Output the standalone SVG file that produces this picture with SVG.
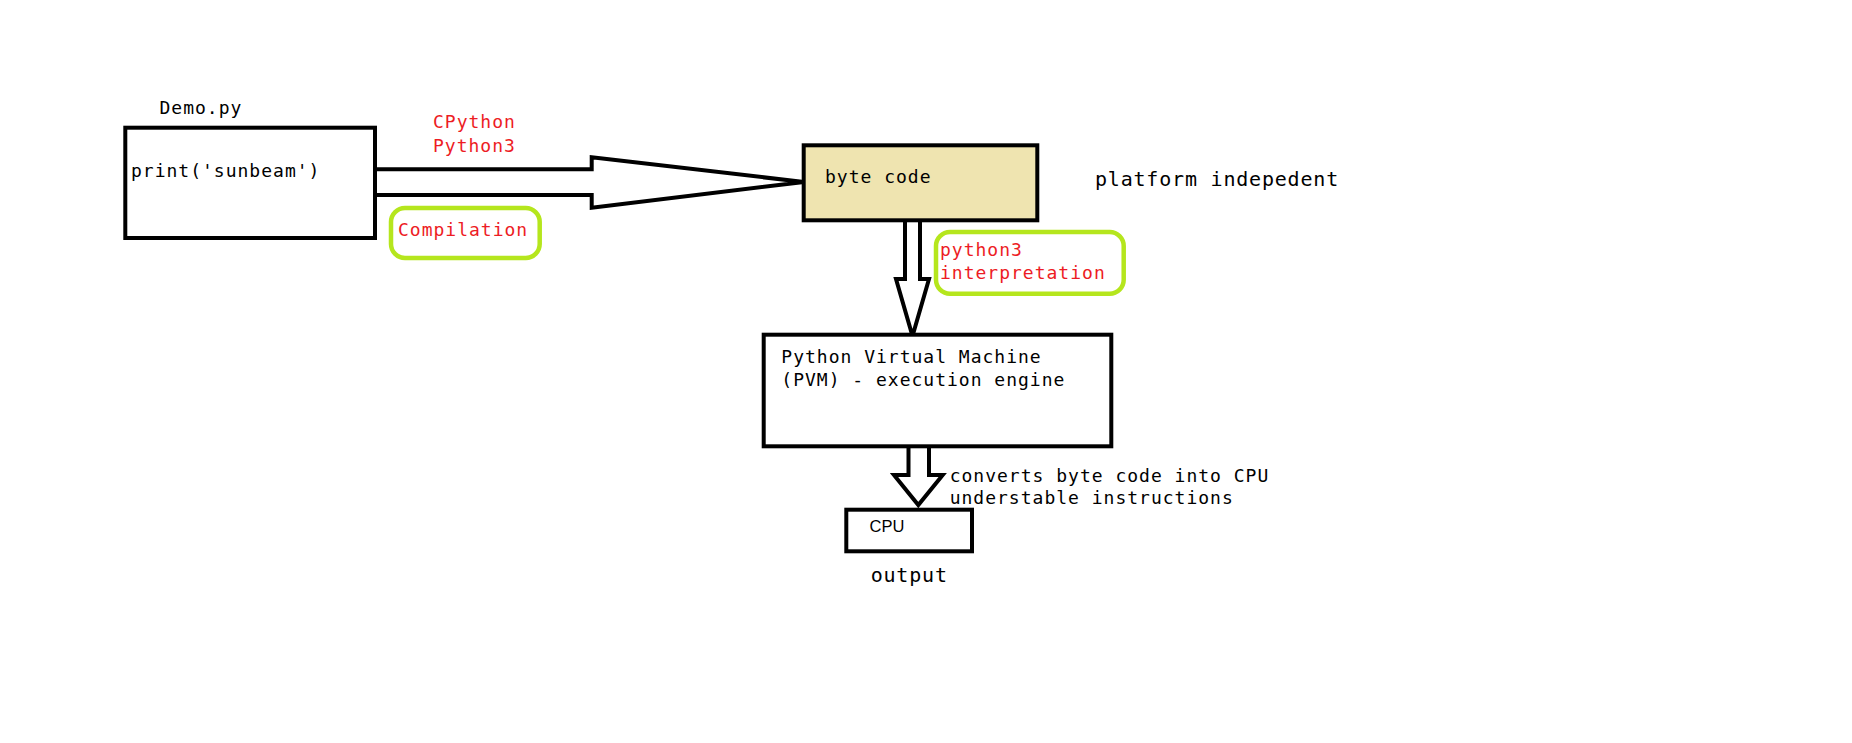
<svg xmlns="http://www.w3.org/2000/svg" width="1852" height="743" viewBox="0 0 1852 743">
<style>
.box{fill:#ffffff;stroke:#000000;stroke-width:4}
.tan{fill:#efe4b0;stroke:#000000;stroke-width:4}
.note{fill:none;stroke:#b5e61d;stroke-width:4.5}
.arrow{fill:#ffffff;stroke:#000000;stroke-width:4;stroke-linejoin:miter}
.t{font-family:"DejaVu Sans Mono","Liberation Mono",monospace;font-size:18px;letter-spacing:1px;fill:#000000}
.big{font-family:"DejaVu Sans Mono","Liberation Mono",monospace;font-size:20px;letter-spacing:0.8px;fill:#000000}
.red{fill:#ed1c24}
.sans{font-family:"Liberation Sans",Arial,sans-serif;font-size:16.5px;fill:#000000}
</style>
<rect width="1852" height="743" fill="#ffffff"/>
<g id="connectors">
<path class="arrow" d="M377,169.3 H591.7 V157.3 L804,182 L591.7,207.7 V195 H377"/>
<path class="arrow" d="M905,222 V279 H896 L912.5,336 L929,279 H920 V222"/>
<path class="arrow" d="M908.5,448 V475 H894 L918.3,505 L942.7,475 H929 V448"/>
</g>
<g id="demo">
<text class="t" x="159.5" y="114">Demo.py</text>
<rect class="box" x="125.3" y="127.7" width="249.7" height="110.3"/>
<text class="t" x="131" y="176.7">print('sunbeam')</text>
</g>
<g id="compiler-label">
<text class="t red" x="433" y="128.3">CPython</text>
<text class="t red" x="433" y="151.7">Python3</text>
</g>
<g id="compilation">
<rect class="note" x="391" y="208" width="148.7" height="50" rx="14" ry="14"/>
<text class="t red" x="398" y="236">Compilation</text>
</g>
<g id="bytecode">
<rect class="tan" x="803.7" y="145.3" width="233.6" height="75"/>
<text class="t" x="825" y="182.7">byte code</text>
</g>
<g id="platform">
<text class="big" x="1095" y="185.7">platform indepedent</text>
</g>
<g id="interpretation">
<rect class="note" x="936" y="232" width="187.7" height="61.7" rx="14" ry="14"/>
<text class="t red" x="940" y="256">python3</text>
<text class="t red" x="940" y="279.3">interpretation</text>
</g>
<g id="pvm">
<rect class="box" x="763.7" y="334.7" width="347.6" height="111.6"/>
<text class="t" x="781.3" y="362.7">Python Virtual Machine</text>
<text class="t" x="781.3" y="385.7">(PVM) - execution engine</text>
</g>
<g id="converts">
<text class="t" x="949.7" y="481.7">converts byte code into CPU</text>
<text class="t" x="949.7" y="504.3">understable instructions</text>
</g>
<g id="cpu">
<rect class="box" x="846.3" y="509.7" width="125.7" height="41.6"/>
<text class="sans" x="869.5" y="531.7">CPU</text>
</g>
<g id="output">
<text class="big" x="870.7" y="581.7">output</text>
</g>
</svg>
